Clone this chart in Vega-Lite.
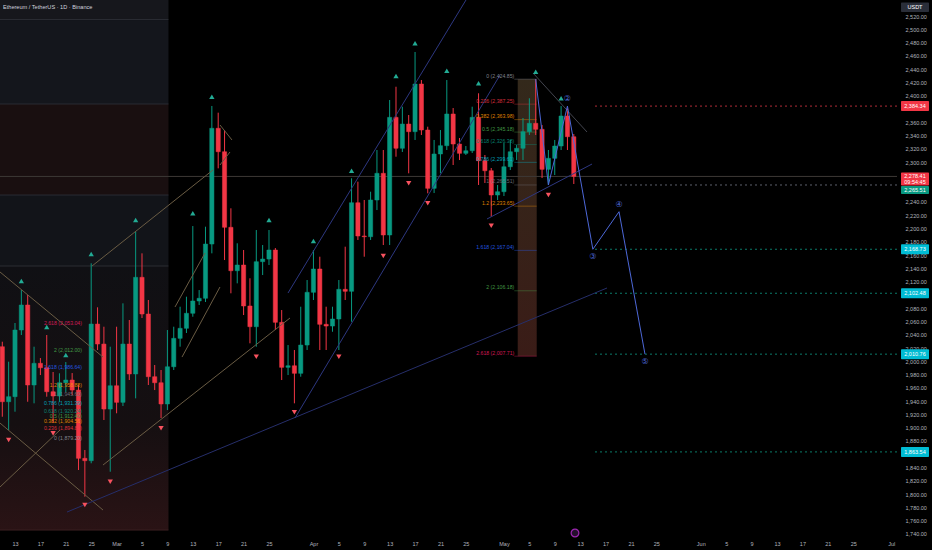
{
  "$schema": "https://vega.github.io/schema/vega-lite/v6.json",
  "width": 897,
  "height": 538,
  "autosize": {"type": "none"},
  "padding": {"left": 0, "top": 0, "right": 35, "bottom": 12},
  "background": "#000000",
  "config": {"view": {"stroke": null}, "font": "Liberation Sans"},
  "datasets": {
    "candles": [
      {"date": "2025-02-11", "open": 2022.0, "high": 2029.5, "low": 1916.5, "close": 1939.1},
      {"date": "2025-02-12", "open": 1939.1, "high": 1999.4, "low": 1896.5, "close": 1946.7},
      {"date": "2025-02-13", "open": 1946.7, "high": 2057.7, "low": 1924.1, "close": 2047.1},
      {"date": "2025-02-14", "open": 2047.1, "high": 2107.3, "low": 2039.6, "close": 2084.8},
      {"date": "2025-02-15", "open": 2084.8, "high": 2099.8, "low": 1939.1, "close": 1964.3},
      {"date": "2025-02-16", "open": 1964.3, "high": 2022.0, "low": 1936.7, "close": 1997.0},
      {"date": "2025-02-17", "open": 1997.0, "high": 2004.9, "low": 1979.3, "close": 1990.3},
      {"date": "2025-02-18", "open": 1990.3, "high": 2039.6, "low": 1946.7, "close": 1954.2},
      {"date": "2025-02-19", "open": 1954.2, "high": 1983.9, "low": 1907.0, "close": 1947.7},
      {"date": "2025-02-20", "open": 1947.7, "high": 1981.9, "low": 1939.1, "close": 1967.7},
      {"date": "2025-02-21", "open": 1967.7, "high": 1998.9, "low": 1953.7, "close": 1971.8},
      {"date": "2025-02-22", "open": 1971.8, "high": 1982.3, "low": 1949.2, "close": 1956.7},
      {"date": "2025-02-23", "open": 1956.7, "high": 1964.3, "low": 1836.3, "close": 1853.9},
      {"date": "2025-02-24", "open": 1853.9, "high": 1866.4, "low": 1796.1, "close": 1850.3},
      {"date": "2025-02-25", "open": 1850.3, "high": 2147.6, "low": 1846.4, "close": 2056.1},
      {"date": "2025-02-26", "open": 2056.1, "high": 2081.3, "low": 2017.0, "close": 2026.0},
      {"date": "2025-02-27", "open": 2026.0, "high": 2052.1, "low": 1911.6, "close": 1928.1},
      {"date": "2025-02-28", "open": 1928.1, "high": 2022.0, "low": 1833.7, "close": 1963.2},
      {"date": "2025-03-01", "open": 1963.2, "high": 2052.1, "low": 1921.7, "close": 1938.2},
      {"date": "2025-03-02", "open": 1938.2, "high": 2087.3, "low": 1932.7, "close": 2026.0},
      {"date": "2025-03-03", "open": 2026.0, "high": 2062.2, "low": 1971.8, "close": 1980.9},
      {"date": "2025-03-04", "open": 1980.9, "high": 2195.2, "low": 1944.2, "close": 2126.5},
      {"date": "2025-03-05", "open": 2126.5, "high": 2162.6, "low": 2065.2, "close": 2071.2},
      {"date": "2025-03-06", "open": 2071.2, "high": 2092.3, "low": 1964.3, "close": 1976.8},
      {"date": "2025-03-07", "open": 1976.8, "high": 1994.4, "low": 1956.7, "close": 1967.7},
      {"date": "2025-03-08", "open": 1967.7, "high": 1986.9, "low": 1914.6, "close": 1935.7},
      {"date": "2025-03-09", "open": 1935.7, "high": 2047.1, "low": 1926.6, "close": 1991.8},
      {"date": "2025-03-10", "open": 1991.8, "high": 2052.1, "low": 1986.9, "close": 2034.6},
      {"date": "2025-03-11", "open": 2034.6, "high": 2082.2, "low": 2022.0, "close": 2049.7},
      {"date": "2025-03-12", "open": 2049.7, "high": 2097.3, "low": 2042.6, "close": 2072.3},
      {"date": "2025-03-13", "open": 2072.3, "high": 2203.7, "low": 2067.1, "close": 2090.8},
      {"date": "2025-03-14", "open": 2090.8, "high": 2107.3, "low": 2084.8, "close": 2094.9},
      {"date": "2025-03-15", "open": 2094.9, "high": 2202.7, "low": 2089.3, "close": 2176.6},
      {"date": "2025-03-16", "open": 2176.6, "high": 2384.5, "low": 2162.6, "close": 2350.9},
      {"date": "2025-03-17", "open": 2350.9, "high": 2374.4, "low": 2290.6, "close": 2315.6},
      {"date": "2025-03-18", "open": 2315.6, "high": 2348.3, "low": 2152.5, "close": 2201.8},
      {"date": "2025-03-19", "open": 2201.8, "high": 2230.4, "low": 2102.4, "close": 2136.4},
      {"date": "2025-03-20", "open": 2136.4, "high": 2177.7, "low": 2117.4, "close": 2145.0},
      {"date": "2025-03-21", "open": 2145.0, "high": 2167.6, "low": 2069.7, "close": 2083.3},
      {"date": "2025-03-22", "open": 2083.3, "high": 2125.0, "low": 2027.1, "close": 2052.1},
      {"date": "2025-03-23", "open": 2052.1, "high": 2197.7, "low": 2022.0, "close": 2150.0},
      {"date": "2025-03-24", "open": 2150.0, "high": 2175.1, "low": 2129.9, "close": 2154.0},
      {"date": "2025-03-25", "open": 2154.0, "high": 2197.7, "low": 2145.0, "close": 2167.6},
      {"date": "2025-03-26", "open": 2167.6, "high": 2170.6, "low": 2047.1, "close": 2058.7},
      {"date": "2025-03-27", "open": 2058.7, "high": 2077.2, "low": 1971.8, "close": 1990.9},
      {"date": "2025-03-28", "open": 1990.9, "high": 2024.5, "low": 1979.3, "close": 1993.3},
      {"date": "2025-03-29", "open": 1993.3, "high": 2017.0, "low": 1936.7, "close": 1981.9},
      {"date": "2025-03-30", "open": 1981.9, "high": 2082.2, "low": 1976.8, "close": 2024.5},
      {"date": "2025-03-31", "open": 2024.5, "high": 2122.4, "low": 2017.0, "close": 2103.9},
      {"date": "2025-04-01", "open": 2103.9, "high": 2167.6, "low": 2092.3, "close": 2139.0},
      {"date": "2025-04-02", "open": 2139.0, "high": 2157.5, "low": 2017.0, "close": 2055.7},
      {"date": "2025-04-03", "open": 2055.7, "high": 2082.2, "low": 2017.0, "close": 2053.1},
      {"date": "2025-04-04", "open": 2053.1, "high": 2082.2, "low": 2044.5, "close": 2063.7},
      {"date": "2025-04-05", "open": 2063.7, "high": 2122.4, "low": 2017.0, "close": 2108.4},
      {"date": "2025-04-06", "open": 2108.4, "high": 2172.6, "low": 2092.3, "close": 2105.4},
      {"date": "2025-04-07", "open": 2105.4, "high": 2275.6, "low": 2059.6, "close": 2238.8},
      {"date": "2025-04-08", "open": 2238.8, "high": 2270.5, "low": 2182.7, "close": 2188.7},
      {"date": "2025-04-09", "open": 2188.7, "high": 2242.9, "low": 2157.5, "close": 2187.6},
      {"date": "2025-04-10", "open": 2187.6, "high": 2255.4, "low": 2182.7, "close": 2242.9},
      {"date": "2025-04-11", "open": 2242.9, "high": 2318.2, "low": 2227.8, "close": 2283.1},
      {"date": "2025-04-12", "open": 2283.1, "high": 2318.2, "low": 2175.1, "close": 2190.2},
      {"date": "2025-04-13", "open": 2190.2, "high": 2393.5, "low": 2175.1, "close": 2367.4},
      {"date": "2025-04-14", "open": 2367.4, "high": 2413.5, "low": 2308.1, "close": 2320.8},
      {"date": "2025-04-15", "open": 2320.8, "high": 2383.4, "low": 2315.2, "close": 2357.3},
      {"date": "2025-04-16", "open": 2357.3, "high": 2370.9, "low": 2283.1, "close": 2345.8},
      {"date": "2025-04-17", "open": 2345.8, "high": 2465.8, "low": 2333.3, "close": 2417.6},
      {"date": "2025-04-18", "open": 2417.6, "high": 2423.6, "low": 2340.8, "close": 2348.3},
      {"date": "2025-04-19", "open": 2348.3, "high": 2353.3, "low": 2253.0, "close": 2260.5},
      {"date": "2025-04-20", "open": 2260.5, "high": 2333.3, "low": 2253.4, "close": 2312.2},
      {"date": "2025-04-21", "open": 2312.2, "high": 2348.3, "low": 2283.1, "close": 2324.7},
      {"date": "2025-04-22", "open": 2324.7, "high": 2423.6, "low": 2318.2, "close": 2372.4},
      {"date": "2025-04-23", "open": 2372.4, "high": 2381.4, "low": 2295.6, "close": 2327.2},
      {"date": "2025-04-24", "open": 2327.2, "high": 2336.3, "low": 2303.1, "close": 2313.2},
      {"date": "2025-04-25", "open": 2313.2, "high": 2324.2, "low": 2310.7, "close": 2317.1},
      {"date": "2025-04-26", "open": 2317.1, "high": 2383.4, "low": 2313.7, "close": 2367.4},
      {"date": "2025-04-27", "open": 2367.4, "high": 2403.6, "low": 2265.5, "close": 2302.1},
      {"date": "2025-04-28", "open": 2302.1, "high": 2310.7, "low": 2268.5, "close": 2287.0},
      {"date": "2025-04-29", "open": 2287.0, "high": 2291.1, "low": 2217.7, "close": 2250.4},
      {"date": "2025-04-30", "open": 2250.4, "high": 2265.5, "low": 2242.9, "close": 2255.4},
      {"date": "2025-05-01", "open": 2255.4, "high": 2328.7, "low": 2248.9, "close": 2293.0},
      {"date": "2025-05-02", "open": 2293.0, "high": 2333.3, "low": 2288.1, "close": 2315.6},
      {"date": "2025-05-03", "open": 2315.6, "high": 2325.7, "low": 2303.1, "close": 2320.8},
      {"date": "2025-05-04", "open": 2320.8, "high": 2366.4, "low": 2303.1, "close": 2345.8},
      {"date": "2025-05-05", "open": 2345.8, "high": 2396.1, "low": 2340.8, "close": 2358.4},
      {"date": "2025-05-06", "open": 2358.4, "high": 2424.85, "low": 2340.8, "close": 2349.4},
      {"date": "2025-05-07", "open": 2349.4, "high": 2355.8, "low": 2276.0, "close": 2289.1},
      {"date": "2025-05-08", "open": 2289.1, "high": 2318.2, "low": 2265.51, "close": 2305.7},
      {"date": "2025-05-09", "open": 2305.7, "high": 2333.3, "low": 2280.5, "close": 2324.2},
      {"date": "2025-05-10", "open": 2324.2, "high": 2384.34, "low": 2318.2, "close": 2369.4},
      {"date": "2025-05-11", "open": 2369.4, "high": 2381.0, "low": 2318.2, "close": 2338.2},
      {"date": "2025-05-12", "open": 2338.2, "high": 2342.3, "low": 2267.0, "close": 2278.41}
    ],
    "bands": [
      {"date": "2025-02-10T15:19:00Z", "date2": "2025-03-09T04:05:00Z", "price": 2544.1, "price2": 2514.7, "zone": "hdr"},
      {"date": "2025-02-10T15:19:00Z", "date2": "2025-03-09T04:05:00Z", "price": 2514.7, "price2": 2387.5, "zone": "top"},
      {"date": "2025-02-10T15:19:00Z", "date2": "2025-03-09T04:05:00Z", "price": 2387.5, "price2": 2250.4, "zone": "red"},
      {"date": "2025-02-10T15:19:00Z", "date2": "2025-03-09T04:05:00Z", "price": 2250.4, "price2": 2143.5, "zone": "mid"}
    ],
    "lowband": [
      {"date": "2025-02-10T15:19:00Z", "date2": "2025-03-09T04:05:00Z", "price": 2143.5, "price2": 1745.9}
    ],
    "fibbox": [
      {"date": "2025-05-03T04:05:00Z", "date2": "2025-05-06T03:50:00Z", "price": 2424.85, "price2": 2007.71}
    ],
    "solidlines": [
      {"date": "2025-02-10T15:19:00Z", "date2": "2025-03-09T04:05:00Z", "price": 2514.7, "kind": "box"},
      {"date": "2025-02-10T15:19:00Z", "date2": "2025-03-09T04:05:00Z", "price": 2387.5, "kind": "box"},
      {"date": "2025-02-10T15:19:00Z", "date2": "2025-03-09T04:05:00Z", "price": 2250.4, "kind": "box"},
      {"date": "2025-02-10T15:19:00Z", "date2": "2025-03-09T04:05:00Z", "price": 2143.5, "kind": "box"},
      {"date": "2025-02-10T15:19:00Z", "date2": "2025-03-09T04:05:00Z", "price": 1745.9, "kind": "boxred"},
      {"date": "2025-02-10T15:19:00Z", "date2": "2025-07-01T21:33:00Z", "price": 2278.41, "kind": "last"}
    ],
    "dashlines": [
      {"date": "2025-05-15T08:10:00Z", "date2": "2025-07-01T21:33:00Z", "price": 2384.34, "kind": "red"},
      {"date": "2025-05-15T08:10:00Z", "date2": "2025-07-01T21:33:00Z", "price": 2265.51, "kind": "gray"},
      {"date": "2025-05-15T08:10:00Z", "date2": "2025-07-01T21:33:00Z", "price": 2168.73, "kind": "green"},
      {"date": "2025-05-15T08:10:00Z", "date2": "2025-07-01T21:33:00Z", "price": 2102.48, "kind": "green"},
      {"date": "2025-05-15T08:10:00Z", "date2": "2025-07-01T21:33:00Z", "price": 2010.76, "kind": "green"},
      {"date": "2025-05-15T08:10:00Z", "date2": "2025-07-01T21:33:00Z", "price": 1863.54, "kind": "green"}
    ],
    "fiblevels": [
      {"side": "right", "date": "2025-05-02T15:00:00Z", "date2": "2025-05-06T03:50:00Z", "lvl": "0", "price": 2424.85, "text": "0 (2,424.85)"},
      {"side": "right", "date": "2025-05-02T15:00:00Z", "date2": "2025-05-06T03:50:00Z", "lvl": "0.236", "price": 2387.25, "text": "0.236 (2,387.25)"},
      {"side": "right", "date": "2025-05-02T15:00:00Z", "date2": "2025-05-06T03:50:00Z", "lvl": "0.382", "price": 2363.98, "text": "0.382 (2,363.98)"},
      {"side": "right", "date": "2025-05-02T15:00:00Z", "date2": "2025-05-06T03:50:00Z", "lvl": "0.5", "price": 2345.18, "text": "0.5 (2,345.18)"},
      {"side": "right", "date": "2025-05-02T15:00:00Z", "date2": "2025-05-06T03:50:00Z", "lvl": "0.618", "price": 2326.38, "text": "0.618 (2,326.38)"},
      {"side": "right", "date": "2025-05-02T15:00:00Z", "date2": "2025-05-06T03:50:00Z", "lvl": "0.786", "price": 2299.61, "text": "0.786 (2,299.61)"},
      {"side": "right", "date": "2025-05-02T15:00:00Z", "date2": "2025-05-06T03:50:00Z", "lvl": "1", "price": 2265.51, "text": "1 (2,265.51)"},
      {"side": "right", "date": "2025-05-02T15:00:00Z", "date2": "2025-05-06T03:50:00Z", "lvl": "1.2", "price": 2233.65, "text": "1.2 (2,233.65)"},
      {"side": "right", "date": "2025-05-02T15:00:00Z", "date2": "2025-05-06T03:50:00Z", "lvl": "1.618", "price": 2167.04, "text": "1.618 (2,167.04)"},
      {"side": "right", "date": "2025-05-02T15:00:00Z", "date2": "2025-05-06T03:50:00Z", "lvl": "2", "price": 2106.18, "text": "2 (2,106.18)"},
      {"side": "right", "date": "2025-05-02T15:00:00Z", "date2": "2025-05-06T03:50:00Z", "lvl": "2.618", "price": 2007.71, "text": "2.618 (2,007.71)"},
      {"side": "left", "date": "2025-02-23T13:12:00Z", "date2": "2025-02-26T12:00:00Z", "lvl": "2.618", "price": 2053.04, "text": "2.618 (2,053.04)"},
      {"side": "left", "date": "2025-02-23T13:12:00Z", "date2": "2025-02-26T12:00:00Z", "lvl": "2", "price": 2012.0, "text": "2 (2,012.00)"},
      {"side": "left", "date": "2025-02-23T13:12:00Z", "date2": "2025-02-26T12:00:00Z", "lvl": "1.618", "price": 1986.64, "text": "1.618 (1,986.64)"},
      {"side": "left", "date": "2025-02-23T13:12:00Z", "date2": "2025-02-26T12:00:00Z", "lvl": "1.2", "price": 1958.88, "text": "1.2 (1,958.88)"},
      {"side": "left", "date": "2025-02-23T13:12:00Z", "date2": "2025-02-26T12:00:00Z", "lvl": "1", "price": 1945.6, "text": "1 (1,945.60)"},
      {"side": "left", "date": "2025-02-23T13:12:00Z", "date2": "2025-02-26T12:00:00Z", "lvl": "0.786", "price": 1931.39, "text": "0.786 (1,931.39)"},
      {"side": "left", "date": "2025-02-23T13:12:00Z", "date2": "2025-02-26T12:00:00Z", "lvl": "0.618", "price": 1920.24, "text": "0.618 (1,920.24)"},
      {"side": "left", "date": "2025-02-23T13:12:00Z", "date2": "2025-02-26T12:00:00Z", "lvl": "0.5", "price": 1912.4, "text": "0.5 (1,912.40)"},
      {"side": "left", "date": "2025-02-23T13:12:00Z", "date2": "2025-02-26T12:00:00Z", "lvl": "0.382", "price": 1904.56, "text": "0.382 (1,904.56)"},
      {"side": "left", "date": "2025-02-23T13:12:00Z", "date2": "2025-02-26T12:00:00Z", "lvl": "0.236", "price": 1894.87, "text": "0.236 (1,894.87)"},
      {"side": "left", "date": "2025-02-23T13:12:00Z", "date2": "2025-02-26T12:00:00Z", "lvl": "0", "price": 1879.2, "text": "0 (1,879.20)"}
    ],
    "segments": [
      {"id": "t1", "kind": "tan", "date": "2025-02-10T15:19:00Z", "price": 2134.5},
      {"id": "t1", "kind": "tan", "date": "2025-02-26T20:38:00Z", "price": 2006.4},
      {"id": "t2", "kind": "tan", "date": "2025-02-10T15:19:00Z", "price": 1907.0},
      {"id": "t2", "kind": "tan", "date": "2025-02-26T20:38:00Z", "price": 1776.0},
      {"id": "t3", "kind": "tan", "date": "2025-02-10T15:19:00Z", "price": 1810.7},
      {"id": "t3", "kind": "tan", "date": "2025-02-20T02:05:00Z", "price": 1896.5},
      {"id": "t4", "kind": "tan", "date": "2025-02-25T03:07:00Z", "price": 2143.5},
      {"id": "t4", "kind": "tan", "date": "2025-03-16T04:19:00Z", "price": 2288.1},
      {"id": "t5", "kind": "tan", "date": "2025-02-26T20:38:00Z", "price": 1843.8},
      {"id": "t5", "kind": "tan", "date": "2025-03-28T07:26:00Z", "price": 2065.2},
      {"id": "t6", "kind": "tan", "date": "2025-03-10T04:48:00Z", "price": 2081.8},
      {"id": "t6", "kind": "tan", "date": "2025-03-14T22:05:00Z", "price": 2163.1},
      {"id": "t7", "kind": "tan", "date": "2025-03-11T07:12:00Z", "price": 2006.4},
      {"id": "t7", "kind": "tan", "date": "2025-03-17T06:43:00Z", "price": 2111.9},
      {"id": "t8", "kind": "tan", "date": "2025-03-17T06:43:00Z", "price": 2355.9},
      {"id": "t8", "kind": "tan", "date": "2025-03-19T04:05:00Z", "price": 2333.3},
      {"id": "t9", "kind": "tan", "date": "2025-03-17T06:43:00Z", "price": 2295.6},
      {"id": "t9", "kind": "tan", "date": "2025-03-18T20:38:00Z", "price": 2315.2},
      {"id": "b1", "kind": "navy", "date": "2025-02-21T04:34:00Z", "price": 1773.0},
      {"id": "b1", "kind": "navy", "date": "2025-05-17T05:31:00Z", "price": 2110.4},
      {"id": "b2", "kind": "blue", "date": "2025-03-27T23:46:00Z", "price": 2102.8},
      {"id": "b2", "kind": "blue", "date": "2025-04-25T00:29:00Z", "price": 2544.1},
      {"id": "b3", "kind": "blue", "date": "2025-03-29T02:10:00Z", "price": 1914.6},
      {"id": "b3", "kind": "blue", "date": "2025-04-30T09:07:00Z", "price": 2431.1},
      {"id": "b4", "kind": "gray", "date": "2025-05-05T13:41:00Z", "price": 2434.2},
      {"id": "b4", "kind": "gray", "date": "2025-05-14T01:55:00Z", "price": 2345.3},
      {"id": "b5", "kind": "blue", "date": "2025-04-28T07:55:00Z", "price": 2214.3},
      {"id": "b5", "kind": "blue", "date": "2025-05-14T20:53:00Z", "price": 2297.1},
      {"id": "w", "kind": "wave", "date": "2025-05-06", "price": 2424.85},
      {"id": "w", "kind": "wave", "date": "2025-05-08", "price": 2265.51},
      {"id": "w", "kind": "wave", "date": "2025-05-11", "price": 2384.34},
      {"id": "w", "kind": "wave", "date": "2025-05-15", "price": 2168.73},
      {"id": "w", "kind": "wave", "date": "2025-05-19T03:00:00Z", "price": 2225.3},
      {"id": "w", "kind": "wave", "date": "2025-05-23T05:00:00Z", "price": 2010.76}
    ],
    "signals": [
      {"date": "2025-02-14", "price": 2120.9, "dir": "up"},
      {"date": "2025-02-18", "price": 2051.6, "dir": "up"},
      {"date": "2025-02-21", "price": 2009.5, "dir": "up"},
      {"date": "2025-02-25", "price": 2161.6, "dir": "up"},
      {"date": "2025-03-04", "price": 2212.8, "dir": "up"},
      {"date": "2025-03-13", "price": 2222.9, "dir": "up"},
      {"date": "2025-03-16", "price": 2398.5, "dir": "up"},
      {"date": "2025-03-25", "price": 2212.8, "dir": "up"},
      {"date": "2025-04-01", "price": 2181.2, "dir": "up"},
      {"date": "2025-04-07", "price": 2287.0, "dir": "up"},
      {"date": "2025-04-14", "price": 2429.6, "dir": "up"},
      {"date": "2025-04-17", "price": 2478.9, "dir": "up"},
      {"date": "2025-04-22", "price": 2437.6, "dir": "up"},
      {"date": "2025-04-27", "price": 2418.7, "dir": "up"},
      {"date": "2025-05-06", "price": 2436.1, "dir": "up"},
      {"date": "2025-05-10", "price": 2396.1, "dir": "up"},
      {"date": "2025-02-12", "price": 1881.5, "dir": "down"},
      {"date": "2025-02-19", "price": 1891.5, "dir": "down"},
      {"date": "2025-02-24", "price": 1783.6, "dir": "down"},
      {"date": "2025-02-28", "price": 1818.7, "dir": "down"},
      {"date": "2025-03-08", "price": 1899.1, "dir": "down"},
      {"date": "2025-03-23", "price": 2006.9, "dir": "down"},
      {"date": "2025-03-29", "price": 1923.2, "dir": "down"},
      {"date": "2025-04-05", "price": 2006.9, "dir": "down"},
      {"date": "2025-04-12", "price": 2158.6, "dir": "down"},
      {"date": "2025-04-16", "price": 2268.1, "dir": "down"},
      {"date": "2025-04-19", "price": 2237.9, "dir": "down"},
      {"date": "2025-04-29", "price": 2204.2, "dir": "down"},
      {"date": "2025-05-08", "price": 2250.4, "dir": "down"}
    ],
    "wavelabels": [
      {"date": "2025-05-11", "price": 2384.34, "text": "②", "pos": "above"},
      {"date": "2025-05-15", "price": 2168.73, "text": "③", "pos": "below"},
      {"date": "2025-05-19T03:00:00Z", "price": 2225.3, "text": "④", "pos": "above"},
      {"date": "2025-05-23T05:00:00Z", "price": 2010.76, "text": "⑤", "pos": "below"}
    ],
    "pricetags": [
      {"date": "2025-07-02T12:43:00Z", "date2": "2025-07-06T22:34:00Z", "price": 2540.3, "price2": 2526.0, "kind": "unit"},
      {"date": "2025-07-02T12:43:00Z", "date2": "2025-07-06T22:34:00Z", "price": 2392.0, "price2": 2376.9, "kind": "red"},
      {"date": "2025-07-02T12:43:00Z", "date2": "2025-07-06T22:34:00Z", "price": 2284.3, "price2": 2264.7, "kind": "red"},
      {"date": "2025-07-02T12:43:00Z", "date2": "2025-07-06T22:34:00Z", "price": 2264.0, "price2": 2252.0, "kind": "green"},
      {"date": "2025-07-02T12:43:00Z", "date2": "2025-07-06T22:34:00Z", "price": 2176.2, "price2": 2161.2, "kind": "cyan"},
      {"date": "2025-07-02T12:43:00Z", "date2": "2025-07-06T22:34:00Z", "price": 2110.0, "price2": 2095.0, "kind": "cyan"},
      {"date": "2025-07-02T12:43:00Z", "date2": "2025-07-06T22:34:00Z", "price": 2018.3, "price2": 2003.2, "kind": "cyan"},
      {"date": "2025-07-02T12:43:00Z", "date2": "2025-07-06T22:34:00Z", "price": 1871.1, "price2": 1856.0, "kind": "cyan"}
    ],
    "tagtexts": [
      {"date": "2025-07-04T17:31:00Z", "price": 2533.1, "text": "USDT"},
      {"date": "2025-07-04T17:31:00Z", "price": 2384.34, "text": "2,384.34"},
      {"date": "2025-07-04T17:31:00Z", "price": 2279.2, "text": "2,278.41"},
      {"date": "2025-07-04T17:31:00Z", "price": 2269.6, "text": "09:54:45"},
      {"date": "2025-07-04T17:31:00Z", "price": 2258.0, "text": "2,265.51"},
      {"date": "2025-07-04T17:31:00Z", "price": 2168.73, "text": "2,168.73"},
      {"date": "2025-07-04T17:31:00Z", "price": 2102.48, "text": "2,102.48"},
      {"date": "2025-07-04T17:31:00Z", "price": 2010.76, "text": "2,010.76"},
      {"date": "2025-07-04T17:31:00Z", "price": 1863.54, "text": "1,863.54"}
    ],
    "header": [
      {"date": "2025-02-11T02:39:00Z", "price": 2534.3, "text": "Ethereum / TetherUS · 1D · Binance"}
    ],
    "events": [
      {"date": "2025-05-12T04:33:00Z", "price": 1741.4}
    ]
  },
  "encoding": {
    "x": {
      "field": "date",
      "type": "temporal",
      "scale": {
        "type": "utc",
        "padding": 0,
        "domain": [
          {"year": 2025, "month": 2, "date": 10, "hours": 15, "minutes": 19, "utc": true},
          {"year": 2025, "month": 7, "date": 1, "hours": 21, "minutes": 33, "utc": true}
        ]
      },
      "axis": {
        "orient": "bottom",
        "title": null,
        "grid": false,
        "ticks": false,
        "domain": false,
        "labelColor": "#b2b5be",
        "labelFontSize": 5.5,
        "labelPadding": 3,
        "labelOverlap": false,
        "labelFlush": false,
        "values": [
          {"year": 2025, "month": 2, "date": 13, "utc": true},
          {"year": 2025, "month": 2, "date": 17, "utc": true},
          {"year": 2025, "month": 2, "date": 21, "utc": true},
          {"year": 2025, "month": 2, "date": 25, "utc": true},
          {"year": 2025, "month": 3, "date": 1, "utc": true},
          {"year": 2025, "month": 3, "date": 5, "utc": true},
          {"year": 2025, "month": 3, "date": 9, "utc": true},
          {"year": 2025, "month": 3, "date": 13, "utc": true},
          {"year": 2025, "month": 3, "date": 17, "utc": true},
          {"year": 2025, "month": 3, "date": 21, "utc": true},
          {"year": 2025, "month": 3, "date": 25, "utc": true},
          {"year": 2025, "month": 4, "date": 1, "utc": true},
          {"year": 2025, "month": 4, "date": 5, "utc": true},
          {"year": 2025, "month": 4, "date": 9, "utc": true},
          {"year": 2025, "month": 4, "date": 13, "utc": true},
          {"year": 2025, "month": 4, "date": 17, "utc": true},
          {"year": 2025, "month": 4, "date": 21, "utc": true},
          {"year": 2025, "month": 4, "date": 25, "utc": true},
          {"year": 2025, "month": 5, "date": 1, "utc": true},
          {"year": 2025, "month": 5, "date": 5, "utc": true},
          {"year": 2025, "month": 5, "date": 9, "utc": true},
          {"year": 2025, "month": 5, "date": 13, "utc": true},
          {"year": 2025, "month": 5, "date": 17, "utc": true},
          {"year": 2025, "month": 5, "date": 21, "utc": true},
          {"year": 2025, "month": 5, "date": 25, "utc": true},
          {"year": 2025, "month": 6, "date": 1, "utc": true},
          {"year": 2025, "month": 6, "date": 5, "utc": true},
          {"year": 2025, "month": 6, "date": 9, "utc": true},
          {"year": 2025, "month": 6, "date": 13, "utc": true},
          {"year": 2025, "month": 6, "date": 17, "utc": true},
          {"year": 2025, "month": 6, "date": 21, "utc": true},
          {"year": 2025, "month": 6, "date": 25, "utc": true},
          {"year": 2025, "month": 7, "date": 1, "utc": true}
        ],
        "labelExpr": "utcdate(datum.value) === 1 ? utcFormat(datum.value, '%b') : utcFormat(datum.value, '%-d')"
      }
    },
    "y": {
      "field": "price",
      "type": "quantitative",
      "scale": {"domain": [1733.9, 2544.1], "zero": false, "nice": false, "padding": 0},
      "axis": {
        "orient": "right",
        "title": null,
        "grid": false,
        "ticks": false,
        "domain": false,
        "labelColor": "#b2b5be",
        "labelFontSize": 5.5,
        "labelPadding": 8,
        "labelAlign": "left",
        "labelBaseline": "middle",
        "labelOverlap": false,
        "labelFlush": false,
        "format": ",.2f",
        "values": [1740, 1760, 1780, 1800, 1820, 1840, 1880, 1900, 1920, 1940, 1960, 1980, 2000, 2020, 2040, 2060, 2080, 2120, 2140, 2160, 2180, 2200, 2220, 2240, 2300, 2320, 2340, 2360, 2400, 2420, 2440, 2460, 2480, 2500, 2520]
      }
    }
  },
  "resolve": {"scale": {"color": "independent", "shape": "independent"}},
  "layer": [
    {
      "data": {"name": "bands"},
      "mark": {"type": "rect"},
      "encoding": {
        "x2": {"field": "date2"},
        "y2": {"field": "price2"},
        "color": {
          "field": "zone",
          "type": "nominal",
          "scale": {"domain": ["hdr", "top", "red", "mid"], "range": ["#16171c", "#14161c", "#190f10", "#121419"]},
          "legend": null
        }
      }
    },
    {
      "data": {"name": "lowband"},
      "mark": {
        "type": "rect",
        "fill": {
          "gradient": "linear",
          "x1": 0, "y1": 0, "x2": 0, "y2": 1,
          "stops": [
            {"offset": 0, "color": "#101014"},
            {"offset": 0.6, "color": "#150f11"},
            {"offset": 1, "color": "#2a1315"}
          ]
        }
      },
      "encoding": {
        "x2": {"field": "date2"},
        "y2": {"field": "price2"}
      }
    },
    {
      "data": {"name": "fibbox"},
      "mark": {
        "type": "rect",
        "fill": {
          "gradient": "linear",
          "x1": 0, "y1": 0, "x2": 0, "y2": 1,
          "stops": [
            {"offset": 0, "color": "#33291b"},
            {"offset": 1, "color": "#3a1c17"}
          ]
        }
      },
      "encoding": {
        "x2": {"field": "date2"},
        "y2": {"field": "price2"}
      }
    },
    {
      "data": {"name": "solidlines"},
      "mark": {"type": "rule", "strokeWidth": 1},
      "encoding": {
        "x2": {"field": "date2"},
        "color": {
          "field": "kind",
          "type": "nominal",
          "scale": {"domain": ["box", "boxred", "last"], "range": ["#2a2c33", "#3a1e20", "#3d3935"]},
          "legend": null
        }
      }
    },
    {
      "data": {"name": "dashlines"},
      "mark": {"type": "rule", "strokeWidth": 1, "strokeDash": [2, 3]},
      "encoding": {
        "x2": {"field": "date2"},
        "color": {
          "field": "kind",
          "type": "nominal",
          "scale": {"domain": ["red", "gray", "green"], "range": ["#b02c38", "#5d606b", "#0b7a68"]},
          "legend": null
        }
      }
    },
    {
      "data": {"name": "fiblevels"},
      "transform": [{"filter": "datum.side === 'right'"}],
      "mark": {"type": "rule", "strokeWidth": 1, "opacity": 0.35},
      "encoding": {
        "x2": {"field": "date2"},
        "color": {
          "field": "lvl",
          "type": "nominal",
          "scale": {
            "domain": ["0", "0.236", "0.382", "0.5", "0.618", "0.786", "1", "1.2", "1.618", "2", "2.618"],
            "range": ["#9598a1", "#f23645", "#ff9800", "#4caf50", "#089981", "#00bcd4", "#787b86", "#ff9800", "#2962ff", "#4caf50", "#e91e63"]
          },
          "legend": null
        }
      }
    },
    {
      "data": {"name": "candles"},
      "mark": {"type": "rule", "strokeWidth": 1},
      "encoding": {
        "y": {"field": "low", "type": "quantitative", "scale": {"zero": false}},
        "y2": {"field": "high"},
        "color": {"condition": {"test": "datum.close < datum.open", "value": "#f23645"}, "value": "#089981"}
      }
    },
    {
      "data": {"name": "candles"},
      "mark": {"type": "bar", "width": 4.2, "strokeWidth": 0.5},
      "encoding": {
        "y": {"field": "open", "type": "quantitative", "scale": {"zero": false}},
        "y2": {"field": "close"},
        "color": {"condition": {"test": "datum.close < datum.open", "value": "#f23645"}, "value": "#089981"},
        "stroke": {"condition": {"test": "datum.close < datum.open", "value": "#f23645"}, "value": "#089981"}
      }
    },
    {
      "data": {"name": "segments"},
      "mark": {"type": "line", "strokeWidth": 1},
      "encoding": {
        "detail": {"field": "id", "type": "nominal"},
        "color": {
          "field": "kind",
          "type": "nominal",
          "scale": {"domain": ["tan", "navy", "blue", "gray", "wave"], "range": ["#6a5c44", "#262e6a", "#2d3780", "#43454f", "#4d68d8"]},
          "legend": null
        }
      }
    },
    {
      "data": {"name": "signals"},
      "mark": {"type": "point", "filled": true, "size": 28, "opacity": 1},
      "encoding": {
        "shape": {
          "field": "dir",
          "type": "nominal",
          "scale": {"domain": ["up", "down"], "range": ["triangle-up", "triangle-down"]},
          "legend": null
        },
        "color": {
          "field": "dir",
          "type": "nominal",
          "scale": {"domain": ["up", "down"], "range": ["#22ab94", "#f7525f"]},
          "legend": null
        }
      }
    },
    {
      "data": {"name": "fiblevels"},
      "mark": {"type": "text", "align": "right", "baseline": "bottom", "dy": -0.5, "fontSize": 5.2, "opacity": 0.85},
      "encoding": {
        "text": {"field": "text"},
        "color": {
          "field": "lvl",
          "type": "nominal",
          "scale": {
            "domain": ["0", "0.236", "0.382", "0.5", "0.618", "0.786", "1", "1.2", "1.618", "2", "2.618"],
            "range": ["#9598a1", "#f23645", "#ff9800", "#4caf50", "#089981", "#00bcd4", "#787b86", "#ff9800", "#2962ff", "#4caf50", "#e91e63"]
          },
          "legend": null
        }
      }
    },
    {
      "data": {"name": "wavelabels"},
      "transform": [{"filter": "datum.pos === 'above'"}],
      "mark": {"type": "text", "font": "DejaVu Sans", "fontSize": 8, "dy": -7, "color": "#4d68d8"},
      "encoding": {"text": {"field": "text"}}
    },
    {
      "data": {"name": "wavelabels"},
      "transform": [{"filter": "datum.pos === 'below'"}],
      "mark": {"type": "text", "font": "DejaVu Sans", "fontSize": 8, "dy": 8, "color": "#4d68d8"},
      "encoding": {"text": {"field": "text"}}
    },
    {
      "data": {"name": "pricetags"},
      "mark": {"type": "rect", "cornerRadius": 1},
      "encoding": {
        "x2": {"field": "date2"},
        "y2": {"field": "price2"},
        "color": {
          "field": "kind",
          "type": "nominal",
          "scale": {"domain": ["unit", "red", "green", "cyan"], "range": ["#2a2e39", "#f23645", "#089981", "#00bcd4"]},
          "legend": null
        }
      }
    },
    {
      "data": {"name": "tagtexts"},
      "mark": {"type": "text", "align": "center", "baseline": "middle", "fontSize": 5.5, "color": "#ffffff"},
      "encoding": {"text": {"field": "text"}}
    },
    {
      "data": {"name": "header"},
      "mark": {"type": "text", "align": "left", "baseline": "middle", "fontSize": 5.6, "color": "#d1d4dc"},
      "encoding": {"text": {"field": "text"}}
    },
    {
      "data": {"name": "events"},
      "mark": {"type": "point", "shape": "circle", "size": 60, "filled": false, "strokeWidth": 1.2, "color": "#9c27b0", "fill": "#24102c", "fillOpacity": 1}
    }
  ]
}
